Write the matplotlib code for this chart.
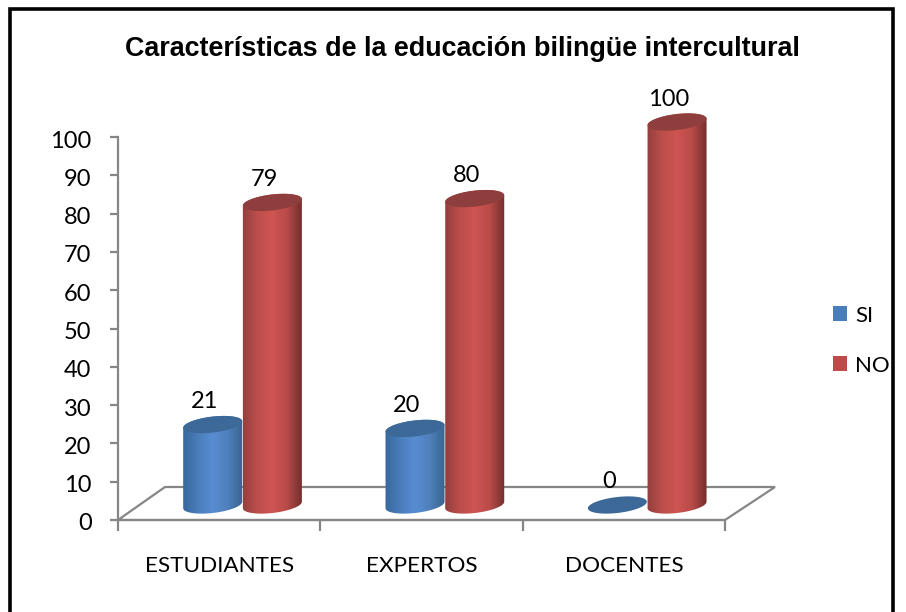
import matplotlib
matplotlib.use('Agg')
import matplotlib.pyplot as plt
import numpy as np
from matplotlib.lines import Line2D
from matplotlib.patches import Patch, Polygon
from matplotlib.colors import LinearSegmentedColormap
from matplotlib.transforms import ScaledTranslation

categories = ['ESTUDIANTES', 'EXPERTOS', 'DOCENTES']
si_values = [21, 20, 0]
no_values = [79, 80, 100]
y_ticks = list(range(0, 101, 10))

W, H = 906, 612
plt.rcParams['font.family'] = ['Lato', 'DejaVu Sans']

fig = plt.figure(figsize=(W / 100, H / 100), dpi=100, facecolor='white')
# axes box in pixels: x 118-725, y 137-520
ax = fig.add_axes([118 / W, 1 - 520 / H, 607 / W, 383 / H])
ax.set_facecolor('none')

# size of one pixel in data units
px = 3 / 607
py = 100 / 383
GRAY = '#868686'


def ellipse(cx, cy, half_w=29.5, half_h=8.0, tilt=0.11):
    t = np.linspace(0, 2 * np.pi, 121)
    ex = half_w * np.cos(t)
    ey = half_h * np.sin(t) + tilt * ex
    return cx + ex * px, cy + ey * py


def cylinder(cx, value, colors, top_color, z):
    base = 15 * py
    ex0, ey0 = ellipse(cx, base)
    ex1, ey1 = ellipse(cx, base + value)
    if value == 0:
        ax.fill(ex0, ey0, color=top_color, zorder=z, clip_on=False, lw=0)
        return
    # lower half of the base ellipse, then upper half of the top one
    low = ey0[60:121]
    body = np.r_[np.c_[ex0[60:121], low], np.c_[ex1[:61], ey1[:61]]]
    patch = Polygon(body, closed=True, transform=ax.transData, fc='none', ec='none')
    ax.add_patch(patch)
    cmap = LinearSegmentedColormap.from_list('shade', colors)
    grad = np.linspace(0, 1, 64).reshape(1, -1)
    im = ax.imshow(grad, cmap=cmap, aspect='auto', zorder=z,
                   extent=[cx - 30 * px, cx + 30 * px, 0, base + value + 20 * py])
    # the tallest cylinder goes past the top of the axes
    im.set_clip_box(fig.bbox)
    im.set_clip_path(patch)
    ax.fill(ex1, ey1, color=top_color, zorder=z + 0.1, clip_on=False, lw=0)


blue = ['#37689e', '#4a7dba', '#588dd2', '#4f80bc', '#396590']
red = ['#93403e', '#bd4e4b', '#ce5552', '#b94b49', '#74302e']

for i in range(len(categories)):
    cx_si = i + 0.468
    cx_no = i + 0.763
    cylinder(cx_si, si_values[i], blue, '#3c6997', 3 + i)
    cylinder(cx_no, no_values[i], red, '#8e3f3d', 3.5 + i)
    for cx, v in ((cx_si, si_values[i]), (cx_no, no_values[i])):
        ax.text(cx - 8 * px, 15 * py + v + 23 * py, str(v), ha='center', va='center',
                fontsize=17, color='black', zorder=10, clip_on=False)

# floor of the 3d box
ax.plot([0, 47 * px, 3 + 50 * px, 3, 0],
        [0, 33 * py, 33 * py, 0, 0],
        color=GRAY, lw=1.6, clip_on=False, zorder=1, solid_joinstyle='miter')

ax.set_xlim(0, 3)
ax.set_ylim(0, 100)
for s in ('top', 'right'):
    ax.spines[s].set_visible(False)
for s in ('left', 'bottom'):
    ax.spines[s].set_color(GRAY)
    ax.spines[s].set_linewidth(1.6)

ax.set_yticks(y_ticks)
ax.set_xticks([i + 0.5 for i in range(len(categories))])
ax.set_xticklabels(categories)
ax.set_xticks(range(len(categories) + 1), minor=True)
ax.tick_params(axis='y', length=6, width=1.6, color=GRAY, labelsize=17, pad=13)
ax.tick_params(axis='x', which='major', length=0, labelsize=16.2, pad=26)
ax.tick_params(axis='x', which='minor', length=8, width=1.6, color=GRAY)
# nudge the y labels down 2 px
nudge = ScaledTranslation(0, -2 / 100, fig.dpi_scale_trans)
for lab in ax.get_yticklabels():
    lab.set_transform(lab.get_transform() + nudge)

handles = [Patch(facecolor='#4a7ebb', label='SI'), Patch(facecolor='#be4b48', label='NO')]
leg = fig.legend(handles=handles, loc='center left', bbox_to_anchor=(833 / W, 1 - 340.5 / H),
                 frameon=False, fontsize=16, handlelength=0.64, handleheight=0.64,
                 handletextpad=0.36, labelspacing=1.35, borderpad=0, borderaxespad=0)

fig.text(462.5 / W, 1 - 49 / H, 'Características de la educación bilingüe intercultural',
         ha='center', va='center', fontsize=19.4, fontweight='bold',
         family=['Liberation Sans', 'DejaVu Sans'], color='black')

# black frame of the pasted chart, open at the bottom
frame_x = [10 / W, 10 / W, 893 / W, 893 / W]
frame_y = [0, 1 - 9 / H, 1 - 9 / H, 0]
fig.add_artist(Line2D(frame_x, frame_y, color='black', lw=2.6, transform=fig.transFigure,
                      solid_joinstyle='miter'))

fig.savefig('out.png', dpi=100)
